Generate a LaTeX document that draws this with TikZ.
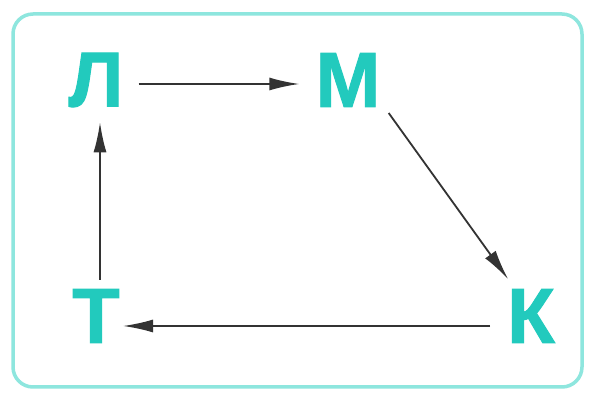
\documentclass[tikz,border=0pt]{standalone}
\usepackage{fontspec}
\setmainfont{Liberation Sans}
\newfontfamily\lblfont[FakeBold=1.2]{Liberation Sans Bold}
\usetikzlibrary{arrows.meta}
\definecolor{letter}{HTML}{22CABD}
\definecolor{frame}{HTML}{8EE6DE}
\definecolor{conn}{HTML}{333333}
\begin{document}
\begin{tikzpicture}[x=1pt,y=1pt,
  lbl/.style={text=letter,font=\lblfont\fontsize{78}{78}\selectfont,inner sep=12pt},
  conn/.style={draw=conn,line width=1.8pt,-{Latex[length=30pt,width=13pt]}}]
\useasboundingbox (0,0) rectangle (589,398);
\fill[white] (0,0) rectangle (589,398);
\draw[frame,line width=3.5pt,rounded corners=20pt] (13,11) rectangle (582,384);
\node[lbl] (L) at (96,318) {Л};
\node[lbl] (M) at (348,318) {М};
\node[lbl] (T) at (96,82) {Т};
\node[lbl] (K) at (531,82) {К};
\draw[conn,shorten <=3pt,shorten >=4pt] ([yshift=-4pt]L.east) -- ([yshift=-4pt]M.west);
\draw[conn] ([xshift=-4pt,yshift=6pt]M.south east) -- ([xshift=13pt,yshift=-2pt]K.north west);
\draw[conn,shorten <=5pt,shorten >=-9pt] ([yshift=-10pt]K.west) -- ([yshift=-10pt]T.east);
\draw[conn,shorten <=-3pt,shorten >=3pt] ([xshift=4pt]T.north) -- ([xshift=4pt]L.south);
\end{tikzpicture}
\end{document}
